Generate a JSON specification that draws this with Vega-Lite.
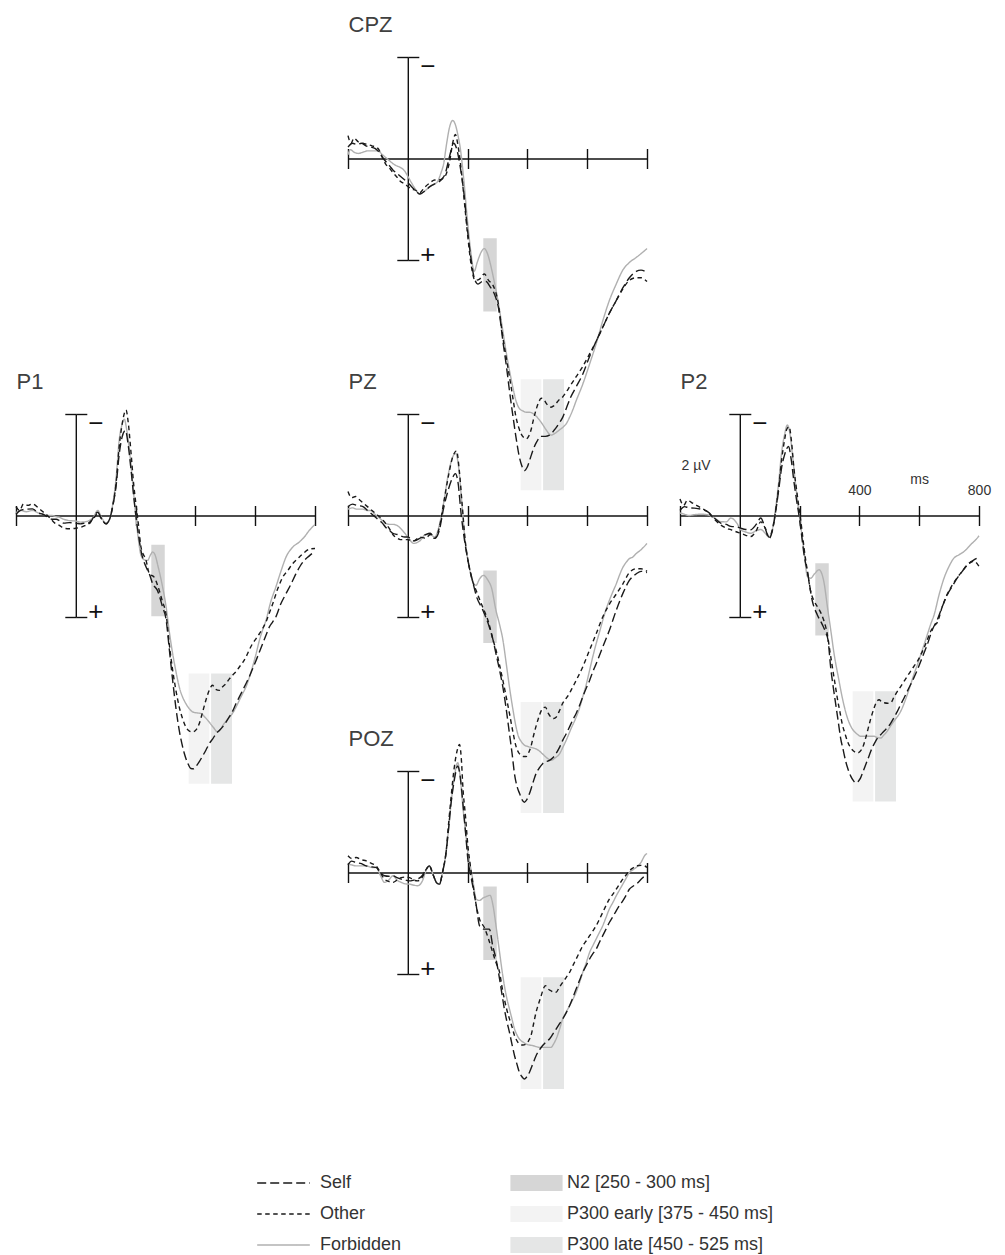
{
"$schema": "https://vega.github.io/schema/vega-lite/v6.json",
"padding": {"left": 13, "top": 13, "right": 5, "bottom": 2},
"bounds": "flush",
"columns": 3,
"spacing": {"row": 154, "column": 33},
"config": {
  "font": "Liberation Sans",
  "view": {"stroke": null},
  "axis": {"grid": false, "labels": false, "domainColor": "#111111", "domainWidth": 1.4, "tickColor": "#111111", "tickWidth": 1.4, "labelFlush": false, "labelOverlap": false, "labelFont": "Liberation Sans", "labelColor": "#333333"},
  "legend": {"labelFontSize": 18, "labelColor": "#333333", "labelFont": "Liberation Sans", "labelLimit": 400, "clipHeight": 20, "rowPadding": 11}
},
"datasets": {
"windows": [
{"site":"CPZ","window":"N2 [250 - 300 ms]","from":250,"to":300,"lo":3.11,"hi":6.06},
{"site":"CPZ","window":"P300 early [375 - 450 ms]","from":375,"to":450,"lo":8.67,"hi":13.1},
{"site":"CPZ","window":"P300 late [450 - 525 ms]","from":450,"to":525,"lo":8.67,"hi":13.1},
{"site":"PZ","window":"N2 [250 - 300 ms]","from":250,"to":300,"lo":2.14,"hi":5.05},
{"site":"PZ","window":"P300 early [375 - 450 ms]","from":375,"to":450,"lo":7.32,"hi":11.75},
{"site":"PZ","window":"P300 late [450 - 525 ms]","from":450,"to":525,"lo":7.32,"hi":11.75},
{"site":"P1","window":"N2 [250 - 300 ms]","from":250,"to":300,"lo":1.12,"hi":4.0},
{"site":"P1","window":"P300 early [375 - 450 ms]","from":375,"to":450,"lo":6.2,"hi":10.6},
{"site":"P1","window":"P300 late [450 - 525 ms]","from":450,"to":525,"lo":6.2,"hi":10.6},
{"site":"P2","window":"N2 [250 - 300 ms]","from":250,"to":300,"lo":1.85,"hi":4.76},
{"site":"P2","window":"P300 early [375 - 450 ms]","from":375,"to":450,"lo":6.9,"hi":11.3},
{"site":"P2","window":"P300 late [450 - 525 ms]","from":450,"to":525,"lo":6.9,"hi":11.3},
{"site":"POZ","window":"N2 [250 - 300 ms]","from":250,"to":300,"lo":0.52,"hi":3.48},
{"site":"POZ","window":"P300 early [375 - 450 ms]","from":375,"to":450,"lo":4.1,"hi":8.56},
{"site":"POZ","window":"P300 late [450 - 525 ms]","from":450,"to":525,"lo":4.1,"hi":8.56}
],
"CPZ": [
{"cond":"Forbidden","ms":-200,"uV":-0.15},{"cond":"Forbidden","ms":-192,"uV":-0.35},{"cond":"Forbidden","ms":-180,"uV":-0.25},{"cond":"Forbidden","ms":-165,"uV":-0.2},{"cond":"Forbidden","ms":-150,"uV":-0.25},{"cond":"Forbidden","ms":-135,"uV":-0.3},{"cond":"Forbidden","ms":-120,"uV":-0.3},{"cond":"Forbidden","ms":-100,"uV":-0.3},{"cond":"Forbidden","ms":-85,"uV":-0.15},{"cond":"Forbidden","ms":-75,"uV":-0.05},{"cond":"Forbidden","ms":-60,"uV":0.1},{"cond":"Forbidden","ms":-50,"uV":0.2},{"cond":"Forbidden","ms":-35,"uV":0.3},{"cond":"Forbidden","ms":-25,"uV":0.35},{"cond":"Forbidden","ms":-10,"uV":0.5},{"cond":"Forbidden","ms":0,"uV":0.7},{"cond":"Forbidden","ms":12,"uV":0.95},{"cond":"Forbidden","ms":25,"uV":1.2},{"cond":"Forbidden","ms":40,"uV":1.4},{"cond":"Forbidden","ms":55,"uV":1.3},{"cond":"Forbidden","ms":75,"uV":1.1},{"cond":"Forbidden","ms":90,"uV":1.0},{"cond":"Forbidden","ms":100,"uV":0.9},{"cond":"Forbidden","ms":110,"uV":0.6},{"cond":"Forbidden","ms":120,"uV":0.2},{"cond":"Forbidden","ms":130,"uV":-0.6},{"cond":"Forbidden","ms":140,"uV":-1.25},{"cond":"Forbidden","ms":150,"uV":-1.5},{"cond":"Forbidden","ms":160,"uV":-1.3},{"cond":"Forbidden","ms":168,"uV":-0.9},{"cond":"Forbidden","ms":175,"uV":-0.45},{"cond":"Forbidden","ms":187,"uV":0.8},{"cond":"Forbidden","ms":200,"uV":2.5},{"cond":"Forbidden","ms":212,"uV":3.8},{"cond":"Forbidden","ms":222,"uV":4.45},{"cond":"Forbidden","ms":232,"uV":4.1},{"cond":"Forbidden","ms":245,"uV":3.7},{"cond":"Forbidden","ms":256,"uV":3.55},{"cond":"Forbidden","ms":268,"uV":3.8},{"cond":"Forbidden","ms":280,"uV":4.35},{"cond":"Forbidden","ms":290,"uV":4.9},{"cond":"Forbidden","ms":300,"uV":5.5},{"cond":"Forbidden","ms":318,"uV":6.8},{"cond":"Forbidden","ms":330,"uV":7.7},{"cond":"Forbidden","ms":340,"uV":8.35},{"cond":"Forbidden","ms":351,"uV":9.0},{"cond":"Forbidden","ms":362,"uV":9.55},{"cond":"Forbidden","ms":373,"uV":9.85},{"cond":"Forbidden","ms":385,"uV":9.95},{"cond":"Forbidden","ms":396,"uV":10.0},{"cond":"Forbidden","ms":407,"uV":10.0},{"cond":"Forbidden","ms":424,"uV":10.1},{"cond":"Forbidden","ms":440,"uV":10.3},{"cond":"Forbidden","ms":452,"uV":10.5},{"cond":"Forbidden","ms":463,"uV":10.7},{"cond":"Forbidden","ms":479,"uV":10.9},{"cond":"Forbidden","ms":496,"uV":10.8},{"cond":"Forbidden","ms":507,"uV":10.7},{"cond":"Forbidden","ms":518,"uV":10.6},{"cond":"Forbidden","ms":530,"uV":10.45},{"cond":"Forbidden","ms":541,"uV":10.2},{"cond":"Forbidden","ms":552,"uV":9.9},{"cond":"Forbidden","ms":563,"uV":9.55},{"cond":"Forbidden","ms":585,"uV":8.9},{"cond":"Forbidden","ms":608,"uV":8.1},{"cond":"Forbidden","ms":630,"uV":7.3},{"cond":"Forbidden","ms":652,"uV":6.4},{"cond":"Forbidden","ms":674,"uV":5.6},{"cond":"Forbidden","ms":697,"uV":4.95},{"cond":"Forbidden","ms":719,"uV":4.4},{"cond":"Forbidden","ms":741,"uV":4.1},{"cond":"Forbidden","ms":764,"uV":3.9},{"cond":"Forbidden","ms":780,"uV":3.75},{"cond":"Forbidden","ms":800,"uV":3.55},
{"cond":"Other","ms":-200,"uV":-0.9},{"cond":"Other","ms":-190,"uV":-0.6},{"cond":"Other","ms":-180,"uV":-0.8},{"cond":"Other","ms":-165,"uV":-0.65},{"cond":"Other","ms":-150,"uV":-0.6},{"cond":"Other","ms":-135,"uV":-0.55},{"cond":"Other","ms":-120,"uV":-0.5},{"cond":"Other","ms":-100,"uV":-0.4},{"cond":"Other","ms":-85,"uV":-0.05},{"cond":"Other","ms":-75,"uV":0.2},{"cond":"Other","ms":-60,"uV":0.4},{"cond":"Other","ms":-50,"uV":0.55},{"cond":"Other","ms":-35,"uV":0.75},{"cond":"Other","ms":-25,"uV":0.9},{"cond":"Other","ms":-10,"uV":1.0},{"cond":"Other","ms":0,"uV":1.1},{"cond":"Other","ms":12,"uV":1.2},{"cond":"Other","ms":25,"uV":1.25},{"cond":"Other","ms":40,"uV":1.35},{"cond":"Other","ms":55,"uV":1.15},{"cond":"Other","ms":75,"uV":0.95},{"cond":"Other","ms":90,"uV":0.85},{"cond":"Other","ms":100,"uV":0.85},{"cond":"Other","ms":115,"uV":0.8},{"cond":"Other","ms":125,"uV":0.7},{"cond":"Other","ms":140,"uV":0.1},{"cond":"Other","ms":150,"uV":-0.6},{"cond":"Other","ms":159,"uV":-0.95},{"cond":"Other","ms":168,"uV":-0.5},{"cond":"Other","ms":180,"uV":0.6},{"cond":"Other","ms":190,"uV":1.8},{"cond":"Other","ms":200,"uV":3.0},{"cond":"Other","ms":212,"uV":4.2},{"cond":"Other","ms":225,"uV":4.8},{"cond":"Other","ms":240,"uV":4.75},{"cond":"Other","ms":256,"uV":4.55},{"cond":"Other","ms":270,"uV":4.8},{"cond":"Other","ms":285,"uV":5.0},{"cond":"Other","ms":300,"uV":5.55},{"cond":"Other","ms":318,"uV":7.05},{"cond":"Other","ms":330,"uV":7.9},{"cond":"Other","ms":340,"uV":8.6},{"cond":"Other","ms":351,"uV":9.4},{"cond":"Other","ms":362,"uV":10.2},{"cond":"Other","ms":371,"uV":10.6},{"cond":"Other","ms":379,"uV":10.85},{"cond":"Other","ms":388,"uV":11.0},{"cond":"Other","ms":396,"uV":11.05},{"cond":"Other","ms":404,"uV":10.95},{"cond":"Other","ms":412,"uV":10.7},{"cond":"Other","ms":420,"uV":10.3},{"cond":"Other","ms":429,"uV":9.9},{"cond":"Other","ms":438,"uV":9.6},{"cond":"Other","ms":446,"uV":9.45},{"cond":"Other","ms":455,"uV":9.5},{"cond":"Other","ms":463,"uV":9.65},{"cond":"Other","ms":471,"uV":9.75},{"cond":"Other","ms":479,"uV":9.8},{"cond":"Other","ms":488,"uV":9.75},{"cond":"Other","ms":496,"uV":9.65},{"cond":"Other","ms":507,"uV":9.5},{"cond":"Other","ms":518,"uV":9.4},{"cond":"Other","ms":530,"uV":9.2},{"cond":"Other","ms":541,"uV":9.0},{"cond":"Other","ms":563,"uV":8.6},{"cond":"Other","ms":585,"uV":8.2},{"cond":"Other","ms":608,"uV":7.7},{"cond":"Other","ms":630,"uV":7.2},{"cond":"Other","ms":652,"uV":6.65},{"cond":"Other","ms":674,"uV":6.1},{"cond":"Other","ms":697,"uV":5.6},{"cond":"Other","ms":719,"uV":5.15},{"cond":"Other","ms":741,"uV":4.8},{"cond":"Other","ms":764,"uV":4.7},{"cond":"Other","ms":780,"uV":4.7},{"cond":"Other","ms":800,"uV":4.85},
{"cond":"Self","ms":-200,"uV":-0.45},{"cond":"Self","ms":-185,"uV":-0.6},{"cond":"Self","ms":-170,"uV":-0.55},{"cond":"Self","ms":-155,"uV":-0.6},{"cond":"Self","ms":-140,"uV":-0.5},{"cond":"Self","ms":-125,"uV":-0.45},{"cond":"Self","ms":-110,"uV":-0.4},{"cond":"Self","ms":-100,"uV":-0.3},{"cond":"Self","ms":-85,"uV":-0.05},{"cond":"Self","ms":-75,"uV":0.1},{"cond":"Self","ms":-60,"uV":0.3},{"cond":"Self","ms":-50,"uV":0.45},{"cond":"Self","ms":-35,"uV":0.6},{"cond":"Self","ms":-25,"uV":0.7},{"cond":"Self","ms":-10,"uV":0.85},{"cond":"Self","ms":0,"uV":0.95},{"cond":"Self","ms":12,"uV":1.1},{"cond":"Self","ms":25,"uV":1.25},{"cond":"Self","ms":40,"uV":1.4},{"cond":"Self","ms":55,"uV":1.3},{"cond":"Self","ms":75,"uV":1.1},{"cond":"Self","ms":90,"uV":1.0},{"cond":"Self","ms":100,"uV":0.95},{"cond":"Self","ms":115,"uV":0.8},{"cond":"Self","ms":125,"uV":0.6},{"cond":"Self","ms":140,"uV":-0.1},{"cond":"Self","ms":153,"uV":-0.6},{"cond":"Self","ms":163,"uV":-0.4},{"cond":"Self","ms":175,"uV":0.3},{"cond":"Self","ms":187,"uV":1.3},{"cond":"Self","ms":200,"uV":2.85},{"cond":"Self","ms":212,"uV":4.0},{"cond":"Self","ms":222,"uV":4.7},{"cond":"Self","ms":235,"uV":4.95},{"cond":"Self","ms":250,"uV":4.85},{"cond":"Self","ms":262,"uV":4.85},{"cond":"Self","ms":275,"uV":5.05},{"cond":"Self","ms":290,"uV":5.35},{"cond":"Self","ms":305,"uV":6.0},{"cond":"Self","ms":318,"uV":7.2},{"cond":"Self","ms":330,"uV":8.2},{"cond":"Self","ms":340,"uV":9.15},{"cond":"Self","ms":351,"uV":10.1},{"cond":"Self","ms":362,"uV":11.0},{"cond":"Self","ms":372,"uV":11.7},{"cond":"Self","ms":381,"uV":12.1},{"cond":"Self","ms":390,"uV":12.3},{"cond":"Self","ms":400,"uV":12.15},{"cond":"Self","ms":410,"uV":11.8},{"cond":"Self","ms":420,"uV":11.45},{"cond":"Self","ms":432,"uV":11.15},{"cond":"Self","ms":445,"uV":10.95},{"cond":"Self","ms":460,"uV":10.95},{"cond":"Self","ms":474,"uV":10.9},{"cond":"Self","ms":490,"uV":10.7},{"cond":"Self","ms":505,"uV":10.45},{"cond":"Self","ms":518,"uV":10.2},{"cond":"Self","ms":530,"uV":9.85},{"cond":"Self","ms":545,"uV":9.4},{"cond":"Self","ms":563,"uV":9.0},{"cond":"Self","ms":585,"uV":8.5},{"cond":"Self","ms":608,"uV":7.8},{"cond":"Self","ms":630,"uV":7.2},{"cond":"Self","ms":652,"uV":6.65},{"cond":"Self","ms":674,"uV":6.1},{"cond":"Self","ms":697,"uV":5.6},{"cond":"Self","ms":719,"uV":5.1},{"cond":"Self","ms":741,"uV":4.7},{"cond":"Self","ms":764,"uV":4.45},{"cond":"Self","ms":780,"uV":4.4},{"cond":"Self","ms":800,"uV":4.5}
],
"PZ": [
{"cond":"Forbidden","ms":-200,"uV":-0.25},{"cond":"Forbidden","ms":-185,"uV":-0.3},{"cond":"Forbidden","ms":-170,"uV":-0.25},{"cond":"Forbidden","ms":-150,"uV":-0.25},{"cond":"Forbidden","ms":-135,"uV":-0.2},{"cond":"Forbidden","ms":-125,"uV":-0.2},{"cond":"Forbidden","ms":-110,"uV":-0.05},{"cond":"Forbidden","ms":-100,"uV":0.05},{"cond":"Forbidden","ms":-85,"uV":0.2},{"cond":"Forbidden","ms":-75,"uV":0.3},{"cond":"Forbidden","ms":-60,"uV":0.35},{"cond":"Forbidden","ms":-50,"uV":0.35},{"cond":"Forbidden","ms":-35,"uV":0.4},{"cond":"Forbidden","ms":-25,"uV":0.5},{"cond":"Forbidden","ms":-10,"uV":0.7},{"cond":"Forbidden","ms":0,"uV":0.85},{"cond":"Forbidden","ms":20,"uV":1.1},{"cond":"Forbidden","ms":40,"uV":1.0},{"cond":"Forbidden","ms":60,"uV":0.75},{"cond":"Forbidden","ms":75,"uV":0.75},{"cond":"Forbidden","ms":90,"uV":0.85},{"cond":"Forbidden","ms":105,"uV":0.4},{"cond":"Forbidden","ms":120,"uV":-0.5},{"cond":"Forbidden","ms":135,"uV":-1.6},{"cond":"Forbidden","ms":150,"uV":-2.3},{"cond":"Forbidden","ms":160,"uV":-2.45},{"cond":"Forbidden","ms":170,"uV":-1.9},{"cond":"Forbidden","ms":180,"uV":-0.6},{"cond":"Forbidden","ms":190,"uV":0.8},{"cond":"Forbidden","ms":205,"uV":2.0},{"cond":"Forbidden","ms":217,"uV":2.6},{"cond":"Forbidden","ms":228,"uV":2.75},{"cond":"Forbidden","ms":240,"uV":2.5},{"cond":"Forbidden","ms":253,"uV":2.36},{"cond":"Forbidden","ms":268,"uV":2.55},{"cond":"Forbidden","ms":280,"uV":2.85},{"cond":"Forbidden","ms":295,"uV":3.75},{"cond":"Forbidden","ms":307,"uV":4.3},{"cond":"Forbidden","ms":318,"uV":4.9},{"cond":"Forbidden","ms":330,"uV":5.9},{"cond":"Forbidden","ms":340,"uV":6.76},{"cond":"Forbidden","ms":351,"uV":7.6},{"cond":"Forbidden","ms":362,"uV":8.33},{"cond":"Forbidden","ms":370,"uV":8.7},{"cond":"Forbidden","ms":379,"uV":8.9},{"cond":"Forbidden","ms":390,"uV":9.05},{"cond":"Forbidden","ms":401,"uV":9.1},{"cond":"Forbidden","ms":415,"uV":9.15},{"cond":"Forbidden","ms":429,"uV":9.2},{"cond":"Forbidden","ms":440,"uV":9.28},{"cond":"Forbidden","ms":451,"uV":9.4},{"cond":"Forbidden","ms":465,"uV":9.55},{"cond":"Forbidden","ms":479,"uV":9.65},{"cond":"Forbidden","ms":493,"uV":9.55},{"cond":"Forbidden","ms":507,"uV":9.4},{"cond":"Forbidden","ms":518,"uV":9.15},{"cond":"Forbidden","ms":530,"uV":8.85},{"cond":"Forbidden","ms":546,"uV":8.4},{"cond":"Forbidden","ms":563,"uV":7.95},{"cond":"Forbidden","ms":574,"uV":7.6},{"cond":"Forbidden","ms":585,"uV":7.15},{"cond":"Forbidden","ms":597,"uV":6.65},{"cond":"Forbidden","ms":608,"uV":6.1},{"cond":"Forbidden","ms":619,"uV":5.55},{"cond":"Forbidden","ms":630,"uV":5.05},{"cond":"Forbidden","ms":641,"uV":4.6},{"cond":"Forbidden","ms":652,"uV":4.13},{"cond":"Forbidden","ms":663,"uV":3.7},{"cond":"Forbidden","ms":674,"uV":3.35},{"cond":"Forbidden","ms":686,"uV":3.0},{"cond":"Forbidden","ms":697,"uV":2.7},{"cond":"Forbidden","ms":708,"uV":2.35},{"cond":"Forbidden","ms":719,"uV":2.05},{"cond":"Forbidden","ms":730,"uV":1.85},{"cond":"Forbidden","ms":741,"uV":1.7},{"cond":"Forbidden","ms":752,"uV":1.64},{"cond":"Forbidden","ms":764,"uV":1.5},{"cond":"Forbidden","ms":780,"uV":1.35},{"cond":"Forbidden","ms":800,"uV":1.1},
{"cond":"Other","ms":-200,"uV":-0.95},{"cond":"Other","ms":-188,"uV":-0.7},{"cond":"Other","ms":-175,"uV":-0.75},{"cond":"Other","ms":-160,"uV":-0.6},{"cond":"Other","ms":-150,"uV":-0.5},{"cond":"Other","ms":-135,"uV":-0.35},{"cond":"Other","ms":-125,"uV":-0.25},{"cond":"Other","ms":-110,"uV":-0.1},{"cond":"Other","ms":-100,"uV":0.0},{"cond":"Other","ms":-85,"uV":0.15},{"cond":"Other","ms":-75,"uV":0.3},{"cond":"Other","ms":-60,"uV":0.55},{"cond":"Other","ms":-50,"uV":0.75},{"cond":"Other","ms":-35,"uV":0.9},{"cond":"Other","ms":-25,"uV":0.95},{"cond":"Other","ms":-10,"uV":0.95},{"cond":"Other","ms":0,"uV":0.95},{"cond":"Other","ms":20,"uV":1.0},{"cond":"Other","ms":40,"uV":0.85},{"cond":"Other","ms":60,"uV":0.9},{"cond":"Other","ms":75,"uV":0.75},{"cond":"Other","ms":90,"uV":0.9},{"cond":"Other","ms":105,"uV":0.5},{"cond":"Other","ms":120,"uV":-0.5},{"cond":"Other","ms":135,"uV":-1.5},{"cond":"Other","ms":150,"uV":-2.3},{"cond":"Other","ms":163,"uV":-2.55},{"cond":"Other","ms":172,"uV":-1.8},{"cond":"Other","ms":182,"uV":-0.4},{"cond":"Other","ms":192,"uV":1.0},{"cond":"Other","ms":205,"uV":2.0},{"cond":"Other","ms":217,"uV":2.6},{"cond":"Other","ms":230,"uV":3.0},{"cond":"Other","ms":250,"uV":3.6},{"cond":"Other","ms":270,"uV":4.2},{"cond":"Other","ms":285,"uV":4.9},{"cond":"Other","ms":295,"uV":5.3},{"cond":"Other","ms":307,"uV":5.9},{"cond":"Other","ms":318,"uV":6.5},{"cond":"Other","ms":330,"uV":7.2},{"cond":"Other","ms":340,"uV":7.8},{"cond":"Other","ms":351,"uV":8.5},{"cond":"Other","ms":362,"uV":9.1},{"cond":"Other","ms":371,"uV":9.35},{"cond":"Other","ms":379,"uV":9.45},{"cond":"Other","ms":388,"uV":9.5},{"cond":"Other","ms":396,"uV":9.5},{"cond":"Other","ms":404,"uV":9.35},{"cond":"Other","ms":412,"uV":9.1},{"cond":"Other","ms":420,"uV":8.7},{"cond":"Other","ms":429,"uV":8.3},{"cond":"Other","ms":438,"uV":7.95},{"cond":"Other","ms":446,"uV":7.7},{"cond":"Other","ms":453,"uV":7.58},{"cond":"Other","ms":460,"uV":7.55},{"cond":"Other","ms":470,"uV":7.8},{"cond":"Other","ms":479,"uV":7.95},{"cond":"Other","ms":488,"uV":8.0},{"cond":"Other","ms":496,"uV":7.95},{"cond":"Other","ms":507,"uV":7.7},{"cond":"Other","ms":518,"uV":7.4},{"cond":"Other","ms":530,"uV":7.2},{"cond":"Other","ms":541,"uV":7.0},{"cond":"Other","ms":552,"uV":6.75},{"cond":"Other","ms":563,"uV":6.5},{"cond":"Other","ms":585,"uV":5.97},{"cond":"Other","ms":608,"uV":5.3},{"cond":"Other","ms":630,"uV":4.66},{"cond":"Other","ms":652,"uV":4.0},{"cond":"Other","ms":674,"uV":3.5},{"cond":"Other","ms":697,"uV":3.1},{"cond":"Other","ms":719,"uV":2.7},{"cond":"Other","ms":741,"uV":2.25},{"cond":"Other","ms":764,"uV":2.1},{"cond":"Other","ms":780,"uV":2.1},{"cond":"Other","ms":800,"uV":2.2},
{"cond":"Self","ms":-200,"uV":-0.35},{"cond":"Self","ms":-185,"uV":-0.45},{"cond":"Self","ms":-170,"uV":-0.4},{"cond":"Self","ms":-150,"uV":-0.35},{"cond":"Self","ms":-135,"uV":-0.2},{"cond":"Self","ms":-125,"uV":-0.1},{"cond":"Self","ms":-110,"uV":0.05},{"cond":"Self","ms":-100,"uV":0.15},{"cond":"Self","ms":-85,"uV":0.3},{"cond":"Self","ms":-75,"uV":0.45},{"cond":"Self","ms":-60,"uV":0.6},{"cond":"Self","ms":-50,"uV":0.7},{"cond":"Self","ms":-35,"uV":0.75},{"cond":"Self","ms":-25,"uV":0.8},{"cond":"Self","ms":-10,"uV":0.85},{"cond":"Self","ms":0,"uV":0.85},{"cond":"Self","ms":20,"uV":1.0},{"cond":"Self","ms":40,"uV":0.9},{"cond":"Self","ms":60,"uV":0.75},{"cond":"Self","ms":75,"uV":0.7},{"cond":"Self","ms":90,"uV":0.9},{"cond":"Self","ms":105,"uV":0.6},{"cond":"Self","ms":120,"uV":-0.3},{"cond":"Self","ms":135,"uV":-1.0},{"cond":"Self","ms":150,"uV":-1.5},{"cond":"Self","ms":159,"uV":-1.65},{"cond":"Self","ms":168,"uV":-1.3},{"cond":"Self","ms":178,"uV":-0.1},{"cond":"Self","ms":190,"uV":1.0},{"cond":"Self","ms":205,"uV":2.0},{"cond":"Self","ms":217,"uV":2.6},{"cond":"Self","ms":230,"uV":3.2},{"cond":"Self","ms":250,"uV":3.7},{"cond":"Self","ms":270,"uV":4.3},{"cond":"Self","ms":285,"uV":4.9},{"cond":"Self","ms":295,"uV":5.45},{"cond":"Self","ms":307,"uV":6.1},{"cond":"Self","ms":318,"uV":6.76},{"cond":"Self","ms":330,"uV":7.7},{"cond":"Self","ms":340,"uV":8.6},{"cond":"Self","ms":349,"uV":9.4},{"cond":"Self","ms":357,"uV":10.2},{"cond":"Self","ms":366,"uV":10.7},{"cond":"Self","ms":374,"uV":10.96},{"cond":"Self","ms":382,"uV":11.2},{"cond":"Self","ms":390,"uV":11.3},{"cond":"Self","ms":398,"uV":11.2},{"cond":"Self","ms":407,"uV":10.96},{"cond":"Self","ms":418,"uV":10.55},{"cond":"Self","ms":429,"uV":10.17},{"cond":"Self","ms":440,"uV":9.95},{"cond":"Self","ms":451,"uV":9.78},{"cond":"Self","ms":462,"uV":9.7},{"cond":"Self","ms":474,"uV":9.65},{"cond":"Self","ms":485,"uV":9.55},{"cond":"Self","ms":496,"uV":9.38},{"cond":"Self","ms":507,"uV":9.15},{"cond":"Self","ms":518,"uV":8.86},{"cond":"Self","ms":530,"uV":8.6},{"cond":"Self","ms":541,"uV":8.33},{"cond":"Self","ms":552,"uV":8.05},{"cond":"Self","ms":563,"uV":7.8},{"cond":"Self","ms":574,"uV":7.5},{"cond":"Self","ms":585,"uV":7.15},{"cond":"Self","ms":597,"uV":6.8},{"cond":"Self","ms":608,"uV":6.5},{"cond":"Self","ms":619,"uV":6.15},{"cond":"Self","ms":630,"uV":5.84},{"cond":"Self","ms":652,"uV":5.18},{"cond":"Self","ms":674,"uV":4.53},{"cond":"Self","ms":697,"uV":3.74},{"cond":"Self","ms":719,"uV":3.08},{"cond":"Self","ms":741,"uV":2.56},{"cond":"Self","ms":764,"uV":2.3},{"cond":"Self","ms":780,"uV":2.2},{"cond":"Self","ms":800,"uV":2.25}
],
"P1": [
{"cond":"Forbidden","ms":-200,"uV":-0.1},{"cond":"Forbidden","ms":-185,"uV":-0.2},{"cond":"Forbidden","ms":-165,"uV":-0.15},{"cond":"Forbidden","ms":-145,"uV":-0.2},{"cond":"Forbidden","ms":-125,"uV":-0.1},{"cond":"Forbidden","ms":-110,"uV":-0.05},{"cond":"Forbidden","ms":-95,"uV":0.0},{"cond":"Forbidden","ms":-80,"uV":0.0},{"cond":"Forbidden","ms":-65,"uV":0.05},{"cond":"Forbidden","ms":-55,"uV":0.07},{"cond":"Forbidden","ms":-40,"uV":0.15},{"cond":"Forbidden","ms":-22,"uV":0.2},{"cond":"Forbidden","ms":0,"uV":0.22},{"cond":"Forbidden","ms":15,"uV":0.26},{"cond":"Forbidden","ms":30,"uV":0.25},{"cond":"Forbidden","ms":45,"uV":0.2},{"cond":"Forbidden","ms":60,"uV":0.05},{"cond":"Forbidden","ms":73,"uV":-0.2},{"cond":"Forbidden","ms":87,"uV":0.1},{"cond":"Forbidden","ms":101,"uV":0.3},{"cond":"Forbidden","ms":113,"uV":0.15},{"cond":"Forbidden","ms":123,"uV":-0.4},{"cond":"Forbidden","ms":135,"uV":-1.5},{"cond":"Forbidden","ms":145,"uV":-2.95},{"cond":"Forbidden","ms":155,"uV":-3.6},{"cond":"Forbidden","ms":162,"uV":-3.8},{"cond":"Forbidden","ms":170,"uV":-3.4},{"cond":"Forbidden","ms":180,"uV":-2.5},{"cond":"Forbidden","ms":190,"uV":-1.3},{"cond":"Forbidden","ms":201,"uV":0.07},{"cond":"Forbidden","ms":210,"uV":1.0},{"cond":"Forbidden","ms":218,"uV":1.57},{"cond":"Forbidden","ms":230,"uV":1.75},{"cond":"Forbidden","ms":240,"uV":1.77},{"cond":"Forbidden","ms":250,"uV":1.55},{"cond":"Forbidden","ms":257,"uV":1.44},{"cond":"Forbidden","ms":265,"uV":1.55},{"cond":"Forbidden","ms":275,"uV":2.0},{"cond":"Forbidden","ms":290,"uV":2.8},{"cond":"Forbidden","ms":302,"uV":3.6},{"cond":"Forbidden","ms":313,"uV":4.6},{"cond":"Forbidden","ms":324,"uV":5.45},{"cond":"Forbidden","ms":335,"uV":6.15},{"cond":"Forbidden","ms":346,"uV":6.76},{"cond":"Forbidden","ms":357,"uV":7.15},{"cond":"Forbidden","ms":368,"uV":7.41},{"cond":"Forbidden","ms":380,"uV":7.62},{"cond":"Forbidden","ms":391,"uV":7.74},{"cond":"Forbidden","ms":405,"uV":7.78},{"cond":"Forbidden","ms":418,"uV":7.8},{"cond":"Forbidden","ms":432,"uV":7.95},{"cond":"Forbidden","ms":446,"uV":8.14},{"cond":"Forbidden","ms":460,"uV":8.35},{"cond":"Forbidden","ms":474,"uV":8.53},{"cond":"Forbidden","ms":485,"uV":8.4},{"cond":"Forbidden","ms":496,"uV":8.2},{"cond":"Forbidden","ms":510,"uV":8.0},{"cond":"Forbidden","ms":524,"uV":7.8},{"cond":"Forbidden","ms":536,"uV":7.55},{"cond":"Forbidden","ms":547,"uV":7.28},{"cond":"Forbidden","ms":558,"uV":7.02},{"cond":"Forbidden","ms":569,"uV":6.76},{"cond":"Forbidden","ms":580,"uV":6.4},{"cond":"Forbidden","ms":591,"uV":5.97},{"cond":"Forbidden","ms":603,"uV":5.45},{"cond":"Forbidden","ms":614,"uV":4.92},{"cond":"Forbidden","ms":625,"uV":4.5},{"cond":"Forbidden","ms":636,"uV":4.13},{"cond":"Forbidden","ms":652,"uV":3.4},{"cond":"Forbidden","ms":669,"uV":2.82},{"cond":"Forbidden","ms":686,"uV":2.2},{"cond":"Forbidden","ms":703,"uV":1.64},{"cond":"Forbidden","ms":725,"uV":1.25},{"cond":"Forbidden","ms":747,"uV":1.05},{"cond":"Forbidden","ms":764,"uV":0.85},{"cond":"Forbidden","ms":780,"uV":0.6},{"cond":"Forbidden","ms":800,"uV":0.35},
{"cond":"Other","ms":-200,"uV":-0.35},{"cond":"Other","ms":-188,"uV":-0.2},{"cond":"Other","ms":-175,"uV":-0.45},{"cond":"Other","ms":-160,"uV":-0.4},{"cond":"Other","ms":-145,"uV":-0.46},{"cond":"Other","ms":-125,"uV":-0.3},{"cond":"Other","ms":-110,"uV":-0.15},{"cond":"Other","ms":-100,"uV":-0.05},{"cond":"Other","ms":-89,"uV":0.07},{"cond":"Other","ms":-70,"uV":0.3},{"cond":"Other","ms":-55,"uV":0.39},{"cond":"Other","ms":-40,"uV":0.5},{"cond":"Other","ms":-22,"uV":0.52},{"cond":"Other","ms":0,"uV":0.5},{"cond":"Other","ms":15,"uV":0.47},{"cond":"Other","ms":30,"uV":0.4},{"cond":"Other","ms":45,"uV":0.28},{"cond":"Other","ms":60,"uV":0.1},{"cond":"Other","ms":73,"uV":-0.07},{"cond":"Other","ms":87,"uV":0.15},{"cond":"Other","ms":101,"uV":0.33},{"cond":"Other","ms":113,"uV":0.15},{"cond":"Other","ms":123,"uV":-0.35},{"cond":"Other","ms":135,"uV":-1.3},{"cond":"Other","ms":145,"uV":-2.7},{"cond":"Other","ms":155,"uV":-3.6},{"cond":"Other","ms":163,"uV":-4.05},{"cond":"Other","ms":168,"uV":-4.16},{"cond":"Other","ms":175,"uV":-3.7},{"cond":"Other","ms":185,"uV":-2.43},{"cond":"Other","ms":193,"uV":-1.3},{"cond":"Other","ms":201,"uV":-0.46},{"cond":"Other","ms":210,"uV":0.4},{"cond":"Other","ms":218,"uV":1.25},{"cond":"Other","ms":235,"uV":1.77},{"cond":"Other","ms":246,"uV":2.3},{"cond":"Other","ms":262,"uV":2.43},{"cond":"Other","ms":275,"uV":2.8},{"cond":"Other","ms":290,"uV":3.4},{"cond":"Other","ms":302,"uV":3.9},{"cond":"Other","ms":313,"uV":5.1},{"cond":"Other","ms":324,"uV":6.1},{"cond":"Other","ms":335,"uV":6.9},{"cond":"Other","ms":346,"uV":7.55},{"cond":"Other","ms":357,"uV":8.0},{"cond":"Other","ms":368,"uV":8.33},{"cond":"Other","ms":380,"uV":8.5},{"cond":"Other","ms":391,"uV":8.53},{"cond":"Other","ms":402,"uV":8.45},{"cond":"Other","ms":413,"uV":8.2},{"cond":"Other","ms":424,"uV":7.75},{"cond":"Other","ms":435,"uV":7.28},{"cond":"Other","ms":446,"uV":6.9},{"cond":"Other","ms":457,"uV":6.69},{"cond":"Other","ms":468,"uV":6.85},{"cond":"Other","ms":480,"uV":6.89},{"cond":"Other","ms":491,"uV":6.75},{"cond":"Other","ms":502,"uV":6.63},{"cond":"Other","ms":513,"uV":6.45},{"cond":"Other","ms":524,"uV":6.3},{"cond":"Other","ms":536,"uV":6.15},{"cond":"Other","ms":547,"uV":5.97},{"cond":"Other","ms":558,"uV":5.8},{"cond":"Other","ms":569,"uV":5.58},{"cond":"Other","ms":580,"uV":5.3},{"cond":"Other","ms":591,"uV":5.05},{"cond":"Other","ms":603,"uV":4.85},{"cond":"Other","ms":614,"uV":4.66},{"cond":"Other","ms":625,"uV":4.45},{"cond":"Other","ms":636,"uV":4.2},{"cond":"Other","ms":647,"uV":3.85},{"cond":"Other","ms":658,"uV":3.5},{"cond":"Other","ms":675,"uV":2.9},{"cond":"Other","ms":692,"uV":2.43},{"cond":"Other","ms":710,"uV":2.15},{"cond":"Other","ms":725,"uV":1.9},{"cond":"Other","ms":742,"uV":1.7},{"cond":"Other","ms":759,"uV":1.51},{"cond":"Other","ms":786,"uV":1.31},{"cond":"Other","ms":800,"uV":1.3},
{"cond":"Self","ms":-200,"uV":-0.05},{"cond":"Self","ms":-185,"uV":-0.2},{"cond":"Self","ms":-165,"uV":-0.25},{"cond":"Self","ms":-145,"uV":-0.26},{"cond":"Self","ms":-125,"uV":-0.1},{"cond":"Self","ms":-110,"uV":-0.05},{"cond":"Self","ms":-95,"uV":0.05},{"cond":"Self","ms":-80,"uV":0.15},{"cond":"Self","ms":-65,"uV":0.15},{"cond":"Self","ms":-55,"uV":0.2},{"cond":"Self","ms":-40,"uV":0.3},{"cond":"Self","ms":-22,"uV":0.28},{"cond":"Self","ms":0,"uV":0.3},{"cond":"Self","ms":15,"uV":0.33},{"cond":"Self","ms":30,"uV":0.3},{"cond":"Self","ms":45,"uV":0.32},{"cond":"Self","ms":60,"uV":0.05},{"cond":"Self","ms":73,"uV":-0.13},{"cond":"Self","ms":87,"uV":0.15},{"cond":"Self","ms":101,"uV":0.33},{"cond":"Self","ms":113,"uV":0.15},{"cond":"Self","ms":123,"uV":-0.33},{"cond":"Self","ms":135,"uV":-1.2},{"cond":"Self","ms":145,"uV":-2.4},{"cond":"Self","ms":155,"uV":-3.1},{"cond":"Self","ms":166,"uV":-3.35},{"cond":"Self","ms":175,"uV":-2.8},{"cond":"Self","ms":185,"uV":-1.77},{"cond":"Self","ms":195,"uV":-0.6},{"cond":"Self","ms":203,"uV":0.2},{"cond":"Self","ms":210,"uV":0.8},{"cond":"Self","ms":218,"uV":1.38},{"cond":"Self","ms":235,"uV":2.03},{"cond":"Self","ms":246,"uV":2.3},{"cond":"Self","ms":257,"uV":2.69},{"cond":"Self","ms":273,"uV":2.95},{"cond":"Self","ms":290,"uV":3.6},{"cond":"Self","ms":302,"uV":4.1},{"cond":"Self","ms":313,"uV":5.3},{"cond":"Self","ms":324,"uV":6.5},{"cond":"Self","ms":335,"uV":7.6},{"cond":"Self","ms":346,"uV":8.47},{"cond":"Self","ms":355,"uV":9.0},{"cond":"Self","ms":363,"uV":9.38},{"cond":"Self","ms":374,"uV":9.75},{"cond":"Self","ms":385,"uV":9.97},{"cond":"Self","ms":393,"uV":9.98},{"cond":"Self","ms":401,"uV":9.9},{"cond":"Self","ms":412,"uV":9.72},{"cond":"Self","ms":423,"uV":9.5},{"cond":"Self","ms":435,"uV":9.25},{"cond":"Self","ms":446,"uV":9.0},{"cond":"Self","ms":458,"uV":8.8},{"cond":"Self","ms":469,"uV":8.6},{"cond":"Self","ms":480,"uV":8.47},{"cond":"Self","ms":491,"uV":8.33},{"cond":"Self","ms":502,"uV":8.15},{"cond":"Self","ms":513,"uV":7.94},{"cond":"Self","ms":525,"uV":7.7},{"cond":"Self","ms":536,"uV":7.41},{"cond":"Self","ms":547,"uV":7.15},{"cond":"Self","ms":558,"uV":6.89},{"cond":"Self","ms":569,"uV":6.63},{"cond":"Self","ms":580,"uV":6.36},{"cond":"Self","ms":591,"uV":6.05},{"cond":"Self","ms":603,"uV":5.71},{"cond":"Self","ms":614,"uV":5.38},{"cond":"Self","ms":625,"uV":5.05},{"cond":"Self","ms":636,"uV":4.72},{"cond":"Self","ms":647,"uV":4.4},{"cond":"Self","ms":658,"uV":4.2},{"cond":"Self","ms":669,"uV":4.0},{"cond":"Self","ms":685,"uV":3.5},{"cond":"Self","ms":703,"uV":3.08},{"cond":"Self","ms":720,"uV":2.7},{"cond":"Self","ms":736,"uV":2.3},{"cond":"Self","ms":750,"uV":2.0},{"cond":"Self","ms":764,"uV":1.77},{"cond":"Self","ms":780,"uV":1.6},{"cond":"Self","ms":800,"uV":1.4}
],
"P2": [
{"cond":"Forbidden","ms":-200,"uV":-0.1},{"cond":"Forbidden","ms":-185,"uV":-0.05},{"cond":"Forbidden","ms":-170,"uV":0.0},{"cond":"Forbidden","ms":-153,"uV":-0.03},{"cond":"Forbidden","ms":-130,"uV":-0.05},{"cond":"Forbidden","ms":-108,"uV":-0.03},{"cond":"Forbidden","ms":-85,"uV":0.1},{"cond":"Forbidden","ms":-64,"uV":0.24},{"cond":"Forbidden","ms":-45,"uV":0.25},{"cond":"Forbidden","ms":-30,"uV":0.1},{"cond":"Forbidden","ms":-10,"uV":0.3},{"cond":"Forbidden","ms":3,"uV":0.56},{"cond":"Forbidden","ms":20,"uV":0.65},{"cond":"Forbidden","ms":36,"uV":0.7},{"cond":"Forbidden","ms":55,"uV":0.6},{"cond":"Forbidden","ms":70,"uV":0.55},{"cond":"Forbidden","ms":85,"uV":0.7},{"cond":"Forbidden","ms":98,"uV":0.85},{"cond":"Forbidden","ms":110,"uV":0.5},{"cond":"Forbidden","ms":120,"uV":-0.3},{"cond":"Forbidden","ms":130,"uV":-1.3},{"cond":"Forbidden","ms":140,"uV":-2.5},{"cond":"Forbidden","ms":150,"uV":-3.2},{"cond":"Forbidden","ms":159,"uV":-3.57},{"cond":"Forbidden","ms":168,"uV":-3.2},{"cond":"Forbidden","ms":176,"uV":-2.4},{"cond":"Forbidden","ms":185,"uV":-1.4},{"cond":"Forbidden","ms":198,"uV":-0.1},{"cond":"Forbidden","ms":207,"uV":0.7},{"cond":"Forbidden","ms":215,"uV":1.42},{"cond":"Forbidden","ms":226,"uV":2.4},{"cond":"Forbidden","ms":237,"uV":2.47},{"cond":"Forbidden","ms":250,"uV":2.3},{"cond":"Forbidden","ms":265,"uV":2.14},{"cond":"Forbidden","ms":281,"uV":2.6},{"cond":"Forbidden","ms":293,"uV":3.6},{"cond":"Forbidden","ms":304,"uV":4.5},{"cond":"Forbidden","ms":316,"uV":5.5},{"cond":"Forbidden","ms":330,"uV":6.4},{"cond":"Forbidden","ms":345,"uV":7.3},{"cond":"Forbidden","ms":360,"uV":7.98},{"cond":"Forbidden","ms":371,"uV":8.3},{"cond":"Forbidden","ms":382,"uV":8.5},{"cond":"Forbidden","ms":393,"uV":8.62},{"cond":"Forbidden","ms":404,"uV":8.7},{"cond":"Forbidden","ms":415,"uV":8.7},{"cond":"Forbidden","ms":427,"uV":8.7},{"cond":"Forbidden","ms":438,"uV":8.7},{"cond":"Forbidden","ms":449,"uV":8.7},{"cond":"Forbidden","ms":460,"uV":8.75},{"cond":"Forbidden","ms":471,"uV":8.77},{"cond":"Forbidden","ms":482,"uV":8.65},{"cond":"Forbidden","ms":493,"uV":8.5},{"cond":"Forbidden","ms":504,"uV":8.3},{"cond":"Forbidden","ms":515,"uV":8.11},{"cond":"Forbidden","ms":527,"uV":7.93},{"cond":"Forbidden","ms":538,"uV":7.72},{"cond":"Forbidden","ms":549,"uV":7.42},{"cond":"Forbidden","ms":560,"uV":7.06},{"cond":"Forbidden","ms":571,"uV":6.68},{"cond":"Forbidden","ms":582,"uV":6.27},{"cond":"Forbidden","ms":594,"uV":5.88},{"cond":"Forbidden","ms":605,"uV":5.49},{"cond":"Forbidden","ms":616,"uV":5.1},{"cond":"Forbidden","ms":627,"uV":4.7},{"cond":"Forbidden","ms":638,"uV":4.3},{"cond":"Forbidden","ms":650,"uV":3.91},{"cond":"Forbidden","ms":667,"uV":3.1},{"cond":"Forbidden","ms":683,"uV":2.47},{"cond":"Forbidden","ms":700,"uV":2.0},{"cond":"Forbidden","ms":716,"uV":1.68},{"cond":"Forbidden","ms":733,"uV":1.55},{"cond":"Forbidden","ms":750,"uV":1.42},{"cond":"Forbidden","ms":772,"uV":1.15},{"cond":"Forbidden","ms":794,"uV":0.89},{"cond":"Forbidden","ms":800,"uV":0.8},
{"cond":"Other","ms":-200,"uV":-0.65},{"cond":"Other","ms":-188,"uV":-0.4},{"cond":"Other","ms":-175,"uV":-0.6},{"cond":"Other","ms":-160,"uV":-0.5},{"cond":"Other","ms":-145,"uV":-0.4},{"cond":"Other","ms":-130,"uV":-0.3},{"cond":"Other","ms":-108,"uV":-0.15},{"cond":"Other","ms":-85,"uV":0.15},{"cond":"Other","ms":-64,"uV":0.37},{"cond":"Other","ms":-45,"uV":0.5},{"cond":"Other","ms":-30,"uV":0.56},{"cond":"Other","ms":-10,"uV":0.65},{"cond":"Other","ms":3,"uV":0.7},{"cond":"Other","ms":20,"uV":0.78},{"cond":"Other","ms":36,"uV":0.83},{"cond":"Other","ms":55,"uV":0.6},{"cond":"Other","ms":70,"uV":0.25},{"cond":"Other","ms":85,"uV":0.5},{"cond":"Other","ms":98,"uV":0.85},{"cond":"Other","ms":110,"uV":0.5},{"cond":"Other","ms":120,"uV":-0.2},{"cond":"Other","ms":130,"uV":-1.1},{"cond":"Other","ms":140,"uV":-2.2},{"cond":"Other","ms":150,"uV":-3.0},{"cond":"Other","ms":157,"uV":-3.4},{"cond":"Other","ms":165,"uV":-3.5},{"cond":"Other","ms":173,"uV":-2.9},{"cond":"Other","ms":181,"uV":-1.86},{"cond":"Other","ms":190,"uV":-1.0},{"cond":"Other","ms":198,"uV":-0.29},{"cond":"Other","ms":207,"uV":0.5},{"cond":"Other","ms":215,"uV":1.29},{"cond":"Other","ms":226,"uV":2.2},{"cond":"Other","ms":237,"uV":2.99},{"cond":"Other","ms":250,"uV":3.4},{"cond":"Other","ms":265,"uV":3.7},{"cond":"Other","ms":280,"uV":4.1},{"cond":"Other","ms":293,"uV":4.7},{"cond":"Other","ms":302,"uV":5.4},{"cond":"Other","ms":310,"uV":6.0},{"cond":"Other","ms":318,"uV":6.6},{"cond":"Other","ms":326,"uV":7.19},{"cond":"Other","ms":335,"uV":7.75},{"cond":"Other","ms":343,"uV":8.24},{"cond":"Other","ms":352,"uV":8.6},{"cond":"Other","ms":360,"uV":8.9},{"cond":"Other","ms":368,"uV":9.1},{"cond":"Other","ms":376,"uV":9.23},{"cond":"Other","ms":385,"uV":9.32},{"cond":"Other","ms":393,"uV":9.36},{"cond":"Other","ms":402,"uV":9.3},{"cond":"Other","ms":410,"uV":9.17},{"cond":"Other","ms":419,"uV":8.85},{"cond":"Other","ms":427,"uV":8.5},{"cond":"Other","ms":438,"uV":8.0},{"cond":"Other","ms":449,"uV":7.59},{"cond":"Other","ms":457,"uV":7.35},{"cond":"Other","ms":466,"uV":7.26},{"cond":"Other","ms":475,"uV":7.35},{"cond":"Other","ms":483,"uV":7.38},{"cond":"Other","ms":494,"uV":7.4},{"cond":"Other","ms":505,"uV":7.38},{"cond":"Other","ms":516,"uV":7.15},{"cond":"Other","ms":527,"uV":6.93},{"cond":"Other","ms":538,"uV":6.74},{"cond":"Other","ms":549,"uV":6.54},{"cond":"Other","ms":560,"uV":6.34},{"cond":"Other","ms":571,"uV":6.14},{"cond":"Other","ms":582,"uV":5.95},{"cond":"Other","ms":594,"uV":5.75},{"cond":"Other","ms":605,"uV":5.5},{"cond":"Other","ms":616,"uV":5.22},{"cond":"Other","ms":627,"uV":4.9},{"cond":"Other","ms":638,"uV":4.57},{"cond":"Other","ms":650,"uV":4.35},{"cond":"Other","ms":661,"uV":4.2},{"cond":"Other","ms":677,"uV":3.6},{"cond":"Other","ms":694,"uV":3.1},{"cond":"Other","ms":710,"uV":2.75},{"cond":"Other","ms":727,"uV":2.45},{"cond":"Other","ms":744,"uV":2.2},{"cond":"Other","ms":761,"uV":1.95},{"cond":"Other","ms":783,"uV":1.8},{"cond":"Other","ms":800,"uV":2.0},
{"cond":"Self","ms":-200,"uV":-0.2},{"cond":"Self","ms":-185,"uV":-0.35},{"cond":"Self","ms":-170,"uV":-0.3},{"cond":"Self","ms":-153,"uV":-0.29},{"cond":"Self","ms":-130,"uV":-0.25},{"cond":"Self","ms":-108,"uV":-0.15},{"cond":"Self","ms":-85,"uV":0.1},{"cond":"Self","ms":-64,"uV":0.3},{"cond":"Self","ms":-45,"uV":0.35},{"cond":"Self","ms":-30,"uV":0.43},{"cond":"Self","ms":-10,"uV":0.45},{"cond":"Self","ms":3,"uV":0.5},{"cond":"Self","ms":20,"uV":0.55},{"cond":"Self","ms":36,"uV":0.56},{"cond":"Self","ms":55,"uV":0.35},{"cond":"Self","ms":70,"uV":0.1},{"cond":"Self","ms":85,"uV":0.5},{"cond":"Self","ms":98,"uV":0.9},{"cond":"Self","ms":110,"uV":0.55},{"cond":"Self","ms":120,"uV":-0.16},{"cond":"Self","ms":130,"uV":-1.0},{"cond":"Self","ms":140,"uV":-1.9},{"cond":"Self","ms":150,"uV":-2.4},{"cond":"Self","ms":163,"uV":-2.72},{"cond":"Self","ms":172,"uV":-2.2},{"cond":"Self","ms":181,"uV":-1.34},{"cond":"Self","ms":190,"uV":-0.6},{"cond":"Self","ms":198,"uV":0.0},{"cond":"Self","ms":207,"uV":0.8},{"cond":"Self","ms":215,"uV":1.55},{"cond":"Self","ms":226,"uV":2.2},{"cond":"Self","ms":243,"uV":3.39},{"cond":"Self","ms":259,"uV":3.91},{"cond":"Self","ms":276,"uV":4.3},{"cond":"Self","ms":287,"uV":4.6},{"cond":"Self","ms":295,"uV":4.9},{"cond":"Self","ms":304,"uV":6.0},{"cond":"Self","ms":313,"uV":6.8},{"cond":"Self","ms":321,"uV":7.45},{"cond":"Self","ms":329,"uV":8.1},{"cond":"Self","ms":337,"uV":8.76},{"cond":"Self","ms":346,"uV":9.25},{"cond":"Self","ms":354,"uV":9.68},{"cond":"Self","ms":362,"uV":10.0},{"cond":"Self","ms":371,"uV":10.27},{"cond":"Self","ms":380,"uV":10.45},{"cond":"Self","ms":388,"uV":10.54},{"cond":"Self","ms":396,"uV":10.48},{"cond":"Self","ms":404,"uV":10.34},{"cond":"Self","ms":412,"uV":10.1},{"cond":"Self","ms":421,"uV":9.82},{"cond":"Self","ms":430,"uV":9.55},{"cond":"Self","ms":438,"uV":9.29},{"cond":"Self","ms":446,"uV":9.08},{"cond":"Self","ms":454,"uV":8.9},{"cond":"Self","ms":462,"uV":8.75},{"cond":"Self","ms":471,"uV":8.64},{"cond":"Self","ms":482,"uV":8.5},{"cond":"Self","ms":493,"uV":8.37},{"cond":"Self","ms":504,"uV":8.2},{"cond":"Self","ms":515,"uV":7.98},{"cond":"Self","ms":527,"uV":7.72},{"cond":"Self","ms":538,"uV":7.45},{"cond":"Self","ms":549,"uV":7.2},{"cond":"Self","ms":560,"uV":6.93},{"cond":"Self","ms":571,"uV":6.67},{"cond":"Self","ms":582,"uV":6.4},{"cond":"Self","ms":594,"uV":6.08},{"cond":"Self","ms":605,"uV":5.75},{"cond":"Self","ms":616,"uV":5.42},{"cond":"Self","ms":627,"uV":5.09},{"cond":"Self","ms":644,"uV":4.5},{"cond":"Self","ms":661,"uV":4.1},{"cond":"Self","ms":677,"uV":3.6},{"cond":"Self","ms":694,"uV":3.12},{"cond":"Self","ms":710,"uV":2.8},{"cond":"Self","ms":727,"uV":2.47},{"cond":"Self","ms":744,"uV":2.2},{"cond":"Self","ms":761,"uV":1.94},{"cond":"Self","ms":783,"uV":1.75},{"cond":"Self","ms":800,"uV":1.65}
],
"POZ": [
{"cond":"Forbidden","ms":-200,"uV":-0.33},{"cond":"Forbidden","ms":-188,"uV":-0.3},{"cond":"Forbidden","ms":-173,"uV":-0.26},{"cond":"Forbidden","ms":-155,"uV":-0.26},{"cond":"Forbidden","ms":-139,"uV":-0.26},{"cond":"Forbidden","ms":-120,"uV":-0.2},{"cond":"Forbidden","ms":-106,"uV":-0.2},{"cond":"Forbidden","ms":-92,"uV":0.1},{"cond":"Forbidden","ms":-78,"uV":0.39},{"cond":"Forbidden","ms":-64,"uV":0.3},{"cond":"Forbidden","ms":-50,"uV":0.13},{"cond":"Forbidden","ms":-36,"uV":0.3},{"cond":"Forbidden","ms":-22,"uV":0.39},{"cond":"Forbidden","ms":-8,"uV":0.45},{"cond":"Forbidden","ms":6,"uV":0.46},{"cond":"Forbidden","ms":20,"uV":0.5},{"cond":"Forbidden","ms":33,"uV":0.52},{"cond":"Forbidden","ms":50,"uV":0.3},{"cond":"Forbidden","ms":60,"uV":-0.05},{"cond":"Forbidden","ms":72,"uV":-0.26},{"cond":"Forbidden","ms":85,"uV":0.1},{"cond":"Forbidden","ms":96,"uV":0.4},{"cond":"Forbidden","ms":106,"uV":0.46},{"cond":"Forbidden","ms":116,"uV":0.0},{"cond":"Forbidden","ms":128,"uV":-0.79},{"cond":"Forbidden","ms":137,"uV":-1.8},{"cond":"Forbidden","ms":145,"uV":-2.76},{"cond":"Forbidden","ms":155,"uV":-3.7},{"cond":"Forbidden","ms":167,"uV":-4.33},{"cond":"Forbidden","ms":175,"uV":-3.8},{"cond":"Forbidden","ms":184,"uV":-2.62},{"cond":"Forbidden","ms":193,"uV":-1.6},{"cond":"Forbidden","ms":201,"uV":-0.79},{"cond":"Forbidden","ms":210,"uV":-0.2},{"cond":"Forbidden","ms":217,"uV":0.26},{"cond":"Forbidden","ms":229,"uV":1.05},{"cond":"Forbidden","ms":240,"uV":1.1},{"cond":"Forbidden","ms":252,"uV":1.0},{"cond":"Forbidden","ms":262,"uV":0.95},{"cond":"Forbidden","ms":275,"uV":0.9},{"cond":"Forbidden","ms":285,"uV":1.3},{"cond":"Forbidden","ms":295,"uV":2.1},{"cond":"Forbidden","ms":307,"uV":3.15},{"cond":"Forbidden","ms":315,"uV":3.85},{"cond":"Forbidden","ms":323,"uV":4.46},{"cond":"Forbidden","ms":331,"uV":4.95},{"cond":"Forbidden","ms":340,"uV":5.38},{"cond":"Forbidden","ms":349,"uV":5.8},{"cond":"Forbidden","ms":357,"uV":6.17},{"cond":"Forbidden","ms":365,"uV":6.4},{"cond":"Forbidden","ms":373,"uV":6.56},{"cond":"Forbidden","ms":385,"uV":6.68},{"cond":"Forbidden","ms":396,"uV":6.76},{"cond":"Forbidden","ms":407,"uV":6.8},{"cond":"Forbidden","ms":418,"uV":6.82},{"cond":"Forbidden","ms":429,"uV":6.86},{"cond":"Forbidden","ms":440,"uV":6.89},{"cond":"Forbidden","ms":451,"uV":6.89},{"cond":"Forbidden","ms":463,"uV":6.89},{"cond":"Forbidden","ms":479,"uV":6.89},{"cond":"Forbidden","ms":488,"uV":6.75},{"cond":"Forbidden","ms":496,"uV":6.56},{"cond":"Forbidden","ms":507,"uV":6.2},{"cond":"Forbidden","ms":518,"uV":5.77},{"cond":"Forbidden","ms":530,"uV":5.5},{"cond":"Forbidden","ms":541,"uV":5.25},{"cond":"Forbidden","ms":552,"uV":5.0},{"cond":"Forbidden","ms":563,"uV":4.72},{"cond":"Forbidden","ms":574,"uV":4.35},{"cond":"Forbidden","ms":585,"uV":3.94},{"cond":"Forbidden","ms":597,"uV":3.55},{"cond":"Forbidden","ms":608,"uV":3.15},{"cond":"Forbidden","ms":619,"uV":2.88},{"cond":"Forbidden","ms":630,"uV":2.62},{"cond":"Forbidden","ms":641,"uV":2.36},{"cond":"Forbidden","ms":652,"uV":2.1},{"cond":"Forbidden","ms":663,"uV":1.77},{"cond":"Forbidden","ms":674,"uV":1.44},{"cond":"Forbidden","ms":686,"uV":1.18},{"cond":"Forbidden","ms":697,"uV":0.92},{"cond":"Forbidden","ms":708,"uV":0.69},{"cond":"Forbidden","ms":719,"uV":0.46},{"cond":"Forbidden","ms":730,"uV":0.23},{"cond":"Forbidden","ms":741,"uV":0.0},{"cond":"Forbidden","ms":752,"uV":-0.1},{"cond":"Forbidden","ms":764,"uV":-0.2},{"cond":"Forbidden","ms":780,"uV":-0.4},{"cond":"Forbidden","ms":792,"uV":-0.66},{"cond":"Forbidden","ms":800,"uV":-0.75},
{"cond":"Other","ms":-200,"uV":-0.66},{"cond":"Other","ms":-188,"uV":-0.55},{"cond":"Other","ms":-173,"uV":-0.59},{"cond":"Other","ms":-155,"uV":-0.5},{"cond":"Other","ms":-139,"uV":-0.46},{"cond":"Other","ms":-120,"uV":-0.35},{"cond":"Other","ms":-106,"uV":-0.26},{"cond":"Other","ms":-92,"uV":0.0},{"cond":"Other","ms":-78,"uV":0.26},{"cond":"Other","ms":-64,"uV":0.35},{"cond":"Other","ms":-50,"uV":0.39},{"cond":"Other","ms":-36,"uV":0.3},{"cond":"Other","ms":-22,"uV":0.2},{"cond":"Other","ms":-8,"uV":0.18},{"cond":"Other","ms":6,"uV":0.2},{"cond":"Other","ms":20,"uV":0.3},{"cond":"Other","ms":33,"uV":0.33},{"cond":"Other","ms":50,"uV":0.15},{"cond":"Other","ms":60,"uV":-0.1},{"cond":"Other","ms":72,"uV":-0.26},{"cond":"Other","ms":85,"uV":0.1},{"cond":"Other","ms":96,"uV":0.4},{"cond":"Other","ms":106,"uV":0.46},{"cond":"Other","ms":116,"uV":0.0},{"cond":"Other","ms":128,"uV":-0.8},{"cond":"Other","ms":137,"uV":-2.0},{"cond":"Other","ms":145,"uV":-3.0},{"cond":"Other","ms":155,"uV":-4.1},{"cond":"Other","ms":165,"uV":-4.8},{"cond":"Other","ms":173,"uV":-5.05},{"cond":"Other","ms":180,"uV":-4.3},{"cond":"Other","ms":184,"uV":-3.41},{"cond":"Other","ms":193,"uV":-2.2},{"cond":"Other","ms":201,"uV":-1.05},{"cond":"Other","ms":210,"uV":-0.2},{"cond":"Other","ms":217,"uV":0.39},{"cond":"Other","ms":229,"uV":1.3},{"cond":"Other","ms":240,"uV":1.84},{"cond":"Other","ms":256,"uV":2.17},{"cond":"Other","ms":270,"uV":2.62},{"cond":"Other","ms":284,"uV":3.15},{"cond":"Other","ms":295,"uV":3.55},{"cond":"Other","ms":307,"uV":3.94},{"cond":"Other","ms":315,"uV":4.5},{"cond":"Other","ms":323,"uV":4.99},{"cond":"Other","ms":331,"uV":5.4},{"cond":"Other","ms":340,"uV":5.77},{"cond":"Other","ms":349,"uV":6.1},{"cond":"Other","ms":357,"uV":6.43},{"cond":"Other","ms":365,"uV":6.63},{"cond":"Other","ms":373,"uV":6.76},{"cond":"Other","ms":385,"uV":6.8},{"cond":"Other","ms":396,"uV":6.76},{"cond":"Other","ms":404,"uV":6.63},{"cond":"Other","ms":412,"uV":6.43},{"cond":"Other","ms":420,"uV":6.0},{"cond":"Other","ms":429,"uV":5.51},{"cond":"Other","ms":438,"uV":5.15},{"cond":"Other","ms":446,"uV":4.86},{"cond":"Other","ms":453,"uV":4.6},{"cond":"Other","ms":460,"uV":4.46},{"cond":"Other","ms":470,"uV":4.6},{"cond":"Other","ms":479,"uV":4.66},{"cond":"Other","ms":488,"uV":4.72},{"cond":"Other","ms":496,"uV":4.72},{"cond":"Other","ms":507,"uV":4.52},{"cond":"Other","ms":518,"uV":4.33},{"cond":"Other","ms":530,"uV":4.13},{"cond":"Other","ms":541,"uV":3.94},{"cond":"Other","ms":552,"uV":3.67},{"cond":"Other","ms":563,"uV":3.41},{"cond":"Other","ms":574,"uV":3.15},{"cond":"Other","ms":585,"uV":2.89},{"cond":"Other","ms":597,"uV":2.69},{"cond":"Other","ms":608,"uV":2.49},{"cond":"Other","ms":619,"uV":2.3},{"cond":"Other","ms":630,"uV":2.1},{"cond":"Other","ms":641,"uV":1.84},{"cond":"Other","ms":652,"uV":1.57},{"cond":"Other","ms":663,"uV":1.3},{"cond":"Other","ms":674,"uV":1.05},{"cond":"Other","ms":686,"uV":0.85},{"cond":"Other","ms":697,"uV":0.66},{"cond":"Other","ms":708,"uV":0.46},{"cond":"Other","ms":719,"uV":0.26},{"cond":"Other","ms":730,"uV":0.1},{"cond":"Other","ms":741,"uV":-0.07},{"cond":"Other","ms":752,"uV":-0.17},{"cond":"Other","ms":764,"uV":-0.26},{"cond":"Other","ms":780,"uV":-0.28},{"cond":"Other","ms":792,"uV":-0.26},{"cond":"Other","ms":800,"uV":-0.2},
{"cond":"Self","ms":-200,"uV":-0.3},{"cond":"Self","ms":-188,"uV":-0.45},{"cond":"Self","ms":-173,"uV":-0.39},{"cond":"Self","ms":-155,"uV":-0.35},{"cond":"Self","ms":-139,"uV":-0.26},{"cond":"Self","ms":-120,"uV":-0.22},{"cond":"Self","ms":-106,"uV":-0.2},{"cond":"Self","ms":-92,"uV":0.0},{"cond":"Self","ms":-78,"uV":0.13},{"cond":"Self","ms":-64,"uV":0.15},{"cond":"Self","ms":-50,"uV":0.13},{"cond":"Self","ms":-36,"uV":0.2},{"cond":"Self","ms":-22,"uV":0.26},{"cond":"Self","ms":-8,"uV":0.3},{"cond":"Self","ms":6,"uV":0.33},{"cond":"Self","ms":20,"uV":0.3},{"cond":"Self","ms":33,"uV":0.26},{"cond":"Self","ms":50,"uV":0.1},{"cond":"Self","ms":60,"uV":-0.1},{"cond":"Self","ms":72,"uV":-0.26},{"cond":"Self","ms":85,"uV":0.1},{"cond":"Self","ms":96,"uV":0.4},{"cond":"Self","ms":106,"uV":0.46},{"cond":"Self","ms":116,"uV":0.0},{"cond":"Self","ms":128,"uV":-0.79},{"cond":"Self","ms":137,"uV":-1.8},{"cond":"Self","ms":145,"uV":-2.76},{"cond":"Self","ms":155,"uV":-3.6},{"cond":"Self","ms":167,"uV":-4.2},{"cond":"Self","ms":175,"uV":-3.8},{"cond":"Self","ms":184,"uV":-2.76},{"cond":"Self","ms":193,"uV":-1.6},{"cond":"Self","ms":201,"uV":-0.52},{"cond":"Self","ms":210,"uV":0.1},{"cond":"Self","ms":217,"uV":0.52},{"cond":"Self","ms":229,"uV":1.31},{"cond":"Self","ms":240,"uV":2.1},{"cond":"Self","ms":256,"uV":2.23},{"cond":"Self","ms":273,"uV":2.23},{"cond":"Self","ms":284,"uV":2.89},{"cond":"Self","ms":295,"uV":3.41},{"cond":"Self","ms":307,"uV":4.2},{"cond":"Self","ms":315,"uV":4.8},{"cond":"Self","ms":323,"uV":5.38},{"cond":"Self","ms":331,"uV":5.85},{"cond":"Self","ms":340,"uV":6.3},{"cond":"Self","ms":349,"uV":6.8},{"cond":"Self","ms":357,"uV":7.22},{"cond":"Self","ms":365,"uV":7.55},{"cond":"Self","ms":373,"uV":7.87},{"cond":"Self","ms":382,"uV":8.05},{"cond":"Self","ms":390,"uV":8.14},{"cond":"Self","ms":398,"uV":8.05},{"cond":"Self","ms":407,"uV":7.87},{"cond":"Self","ms":418,"uV":7.55},{"cond":"Self","ms":429,"uV":7.22},{"cond":"Self","ms":440,"uV":7.0},{"cond":"Self","ms":451,"uV":6.82},{"cond":"Self","ms":462,"uV":6.68},{"cond":"Self","ms":474,"uV":6.56},{"cond":"Self","ms":485,"uV":6.37},{"cond":"Self","ms":496,"uV":6.17},{"cond":"Self","ms":507,"uV":5.97},{"cond":"Self","ms":518,"uV":5.77},{"cond":"Self","ms":530,"uV":5.52},{"cond":"Self","ms":541,"uV":5.25},{"cond":"Self","ms":552,"uV":4.93},{"cond":"Self","ms":563,"uV":4.59},{"cond":"Self","ms":574,"uV":4.26},{"cond":"Self","ms":585,"uV":3.94},{"cond":"Self","ms":597,"uV":3.66},{"cond":"Self","ms":608,"uV":3.41},{"cond":"Self","ms":619,"uV":3.2},{"cond":"Self","ms":630,"uV":3.02},{"cond":"Self","ms":641,"uV":2.75},{"cond":"Self","ms":652,"uV":2.49},{"cond":"Self","ms":663,"uV":2.23},{"cond":"Self","ms":674,"uV":1.97},{"cond":"Self","ms":686,"uV":1.74},{"cond":"Self","ms":697,"uV":1.51},{"cond":"Self","ms":708,"uV":1.3},{"cond":"Self","ms":719,"uV":1.12},{"cond":"Self","ms":730,"uV":0.9},{"cond":"Self","ms":741,"uV":0.66},{"cond":"Self","ms":752,"uV":0.55},{"cond":"Self","ms":764,"uV":0.46},{"cond":"Self","ms":778,"uV":0.3},{"cond":"Self","ms":792,"uV":0.13},{"cond":"Self","ms":800,"uV":0.05}
]
},
"concat": [
{"width": 299, "height": 203, "data": {"values": []}, "mark": "point", "encoding": {}},
{
 "width": 299, "height": 203,
 "layer": [
  {"data": {"name": "windows"}, "transform": [{"filter": "datum.site === 'CPZ'"}],
   "mark": {"type": "rect", "stroke": "#ffffff", "strokeWidth": 1.5},
   "encoding": {
    "x": {"field": "from", "type": "quantitative", "scale": {"domain": [-200, 800], "nice": false, "zero": false}, "axis": {"orient": "bottom", "offset": -101.5, "values": [-200, 200, 400, 600, 800], "tickSize": 10, "title": "CPZ", "titleX": 0, "titleY": -127, "titleAlign": "left", "titleBaseline": "alphabetic", "titleFontSize": 22, "titleFontWeight": "normal", "titleColor": "#404040", "titleFont": "Liberation Sans"}},
    "x2": {"field": "to"},
    "y": {"field": "lo", "type": "quantitative", "scale": {"domain": [-4, 4], "reverse": true, "nice": false, "zero": false}, "axis": {"orient": "left", "offset": -59.8, "values": [-4, 4], "tickSize": 11, "title": null}},
    "y2": {"field": "hi"},
    "fill": {"field": "window", "type": "nominal", "scale": {"domain": ["N2 [250 - 300 ms]", "P300 early [375 - 450 ms]", "P300 late [450 - 525 ms]"], "range": ["#d6d6d6", "#f3f3f3", "#e5e6e6"]}, "legend": {"title": null, "orient": "none", "legendX": 494, "legendY": 1116, "symbolType": "M-1,-0.31H1V0.31H-1Z", "symbolSize": 2720, "symbolStrokeWidth": 0, "labelOffset": 4}}
   }},
  {"data": {"name": "CPZ"},
   "mark": {"type": "line", "interpolate": "monotone", "strokeWidth": 1.4},
   "encoding": {
    "x": {"field": "ms", "type": "quantitative", "scale": {"domain": [-200, 800], "nice": false, "zero": false}, "axis": {"orient": "top", "offset": -101.5, "values": [-200, 200, 400, 600, 800], "tickSize": 10, "domain": false, "title": null}},
    "y": {"field": "uV", "type": "quantitative", "scale": {"domain": [-4, 4], "reverse": true, "nice": false, "zero": false}, "axis": {"orient": "right", "offset": -239.2, "values": [-4, 4], "tickSize": 11, "domain": false, "title": null, "labels": true, "labelExpr": "datum.value < 0 ? '−' : '+'", "labelFontSize": 26, "labelColor": "#111111", "labelPadding": 1, "labelBaseline": "middle", "labelOffset": {"condition": {"test": "datum.value < 0", "value": 9}, "value": -6}}},
    "stroke": {"field": "cond", "type": "nominal", "scale": {"domain": ["Self", "Other", "Forbidden"], "range": ["#1a1a1a", "#1a1a1a", "#b0b0b0"]}, "legend": {"title": null, "orient": "none", "legendX": 240, "legendY": 1116, "symbolType": "stroke", "symbolSize": 2767, "symbolStrokeWidth": 1.4, "labelOffset": 9}},
    "strokeDash": {"field": "cond", "type": "nominal", "scale": {"domain": ["Self", "Other", "Forbidden"], "range": [[9, 4], [4.5, 3.5], [1, 0]]}, "legend": {"title": null, "orient": "none", "legendX": 240, "legendY": 1116, "symbolType": "stroke", "symbolSize": 2767, "symbolStrokeWidth": 1.4, "labelOffset": 9}}
   }}
 ],
 "resolve": {"axis": {"x": "independent", "y": "independent"}}
},
{"width": 299, "height": 203, "data": {"values": []}, "mark": "point", "encoding": {}},
{
 "width": 299, "height": 203,
 "layer": [
  {"data": {"name": "windows"}, "transform": [{"filter": "datum.site === 'P1'"}],
   "mark": {"type": "rect", "stroke": "#ffffff", "strokeWidth": 1.5},
   "encoding": {
    "x": {"field": "from", "type": "quantitative", "scale": {"domain": [-200, 800], "nice": false, "zero": false}, "axis": {"orient": "bottom", "offset": -101.5, "values": [-200, 200, 400, 600, 800], "tickSize": 10, "title": "P1", "titleX": 0, "titleY": -127, "titleAlign": "left", "titleBaseline": "alphabetic", "titleFontSize": 22, "titleFontWeight": "normal", "titleColor": "#404040", "titleFont": "Liberation Sans"}},
    "x2": {"field": "to"},
    "y": {"field": "lo", "type": "quantitative", "scale": {"domain": [-4, 4], "reverse": true, "nice": false, "zero": false}, "axis": {"orient": "left", "offset": -59.8, "values": [-4, 4], "tickSize": 11, "title": null}},
    "y2": {"field": "hi"},
    "fill": {"field": "window", "type": "nominal", "scale": {"domain": ["N2 [250 - 300 ms]", "P300 early [375 - 450 ms]", "P300 late [450 - 525 ms]"], "range": ["#d6d6d6", "#f3f3f3", "#e5e6e6"]}, "legend": {"title": null, "orient": "none", "legendX": 494, "legendY": 1116, "symbolType": "M-1,-0.31H1V0.31H-1Z", "symbolSize": 2720, "symbolStrokeWidth": 0, "labelOffset": 4}}
   }},
  {"data": {"name": "P1"},
   "mark": {"type": "line", "interpolate": "monotone", "strokeWidth": 1.4},
   "encoding": {
    "x": {"field": "ms", "type": "quantitative", "scale": {"domain": [-200, 800], "nice": false, "zero": false}, "axis": {"orient": "top", "offset": -101.5, "values": [-200, 200, 400, 600, 800], "tickSize": 10, "domain": false, "title": null}},
    "y": {"field": "uV", "type": "quantitative", "scale": {"domain": [-4, 4], "reverse": true, "nice": false, "zero": false}, "axis": {"orient": "right", "offset": -239.2, "values": [-4, 4], "tickSize": 11, "domain": false, "title": null, "labels": true, "labelExpr": "datum.value < 0 ? '−' : '+'", "labelFontSize": 26, "labelColor": "#111111", "labelPadding": 1, "labelBaseline": "middle", "labelOffset": {"condition": {"test": "datum.value < 0", "value": 9}, "value": -6}}},
    "stroke": {"field": "cond", "type": "nominal", "scale": {"domain": ["Self", "Other", "Forbidden"], "range": ["#1a1a1a", "#1a1a1a", "#b0b0b0"]}, "legend": {"title": null, "orient": "none", "legendX": 240, "legendY": 1116, "symbolType": "stroke", "symbolSize": 2767, "symbolStrokeWidth": 1.4, "labelOffset": 9}},
    "strokeDash": {"field": "cond", "type": "nominal", "scale": {"domain": ["Self", "Other", "Forbidden"], "range": [[9, 4], [4.5, 3.5], [1, 0]]}, "legend": {"title": null, "orient": "none", "legendX": 240, "legendY": 1116, "symbolType": "stroke", "symbolSize": 2767, "symbolStrokeWidth": 1.4, "labelOffset": 9}}
   }}
 ],
 "resolve": {"axis": {"x": "independent", "y": "independent"}}
},
{
 "width": 299, "height": 203,
 "layer": [
  {"data": {"name": "windows"}, "transform": [{"filter": "datum.site === 'PZ'"}],
   "mark": {"type": "rect", "stroke": "#ffffff", "strokeWidth": 1.5},
   "encoding": {
    "x": {"field": "from", "type": "quantitative", "scale": {"domain": [-200, 800], "nice": false, "zero": false}, "axis": {"orient": "bottom", "offset": -101.5, "values": [-200, 200, 400, 600, 800], "tickSize": 10, "title": "PZ", "titleX": 0, "titleY": -127, "titleAlign": "left", "titleBaseline": "alphabetic", "titleFontSize": 22, "titleFontWeight": "normal", "titleColor": "#404040", "titleFont": "Liberation Sans"}},
    "x2": {"field": "to"},
    "y": {"field": "lo", "type": "quantitative", "scale": {"domain": [-4, 4], "reverse": true, "nice": false, "zero": false}, "axis": {"orient": "left", "offset": -59.8, "values": [-4, 4], "tickSize": 11, "title": null}},
    "y2": {"field": "hi"},
    "fill": {"field": "window", "type": "nominal", "scale": {"domain": ["N2 [250 - 300 ms]", "P300 early [375 - 450 ms]", "P300 late [450 - 525 ms]"], "range": ["#d6d6d6", "#f3f3f3", "#e5e6e6"]}, "legend": {"title": null, "orient": "none", "legendX": 494, "legendY": 1116, "symbolType": "M-1,-0.31H1V0.31H-1Z", "symbolSize": 2720, "symbolStrokeWidth": 0, "labelOffset": 4}}
   }},
  {"data": {"name": "PZ"},
   "mark": {"type": "line", "interpolate": "monotone", "strokeWidth": 1.4},
   "encoding": {
    "x": {"field": "ms", "type": "quantitative", "scale": {"domain": [-200, 800], "nice": false, "zero": false}, "axis": {"orient": "top", "offset": -101.5, "values": [-200, 200, 400, 600, 800], "tickSize": 10, "domain": false, "title": null}},
    "y": {"field": "uV", "type": "quantitative", "scale": {"domain": [-4, 4], "reverse": true, "nice": false, "zero": false}, "axis": {"orient": "right", "offset": -239.2, "values": [-4, 4], "tickSize": 11, "domain": false, "title": null, "labels": true, "labelExpr": "datum.value < 0 ? '−' : '+'", "labelFontSize": 26, "labelColor": "#111111", "labelPadding": 1, "labelBaseline": "middle", "labelOffset": {"condition": {"test": "datum.value < 0", "value": 9}, "value": -6}}},
    "stroke": {"field": "cond", "type": "nominal", "scale": {"domain": ["Self", "Other", "Forbidden"], "range": ["#1a1a1a", "#1a1a1a", "#b0b0b0"]}, "legend": {"title": null, "orient": "none", "legendX": 240, "legendY": 1116, "symbolType": "stroke", "symbolSize": 2767, "symbolStrokeWidth": 1.4, "labelOffset": 9}},
    "strokeDash": {"field": "cond", "type": "nominal", "scale": {"domain": ["Self", "Other", "Forbidden"], "range": [[9, 4], [4.5, 3.5], [1, 0]]}, "legend": {"title": null, "orient": "none", "legendX": 240, "legendY": 1116, "symbolType": "stroke", "symbolSize": 2767, "symbolStrokeWidth": 1.4, "labelOffset": 9}}
   }}
 ],
 "resolve": {"axis": {"x": "independent", "y": "independent"}}
},
{
 "width": 299, "height": 203,
 "layer": [
  {"data": {"name": "windows"}, "transform": [{"filter": "datum.site === 'P2'"}],
   "mark": {"type": "rect", "stroke": "#ffffff", "strokeWidth": 1.5},
   "encoding": {
    "x": {"field": "from", "type": "quantitative", "scale": {"domain": [-200, 800], "nice": false, "zero": false}, "axis": {"orient": "bottom", "offset": -101.5, "values": [-200, 200, 400, 600, 800], "tickSize": 10, "title": "P2", "titleX": 0, "titleY": -127, "titleAlign": "left", "titleBaseline": "alphabetic", "titleFontSize": 22, "titleFontWeight": "normal", "titleColor": "#404040", "titleFont": "Liberation Sans"}},
    "x2": {"field": "to"},
    "y": {"field": "lo", "type": "quantitative", "scale": {"domain": [-4, 4], "reverse": true, "nice": false, "zero": false}, "axis": {"orient": "left", "offset": -59.8, "values": [-4, 4], "tickSize": 11, "title": "2 µV", "titleAngle": 0, "titleAlign": "left", "titleBaseline": "middle", "titleX": -58.8, "titleY": 51, "titleFontSize": 14, "titleFontWeight": "normal", "titleColor": "#333333", "titleFont": "Liberation Sans"}},
    "y2": {"field": "hi"},
    "fill": {"field": "window", "type": "nominal", "scale": {"domain": ["N2 [250 - 300 ms]", "P300 early [375 - 450 ms]", "P300 late [450 - 525 ms]"], "range": ["#d6d6d6", "#f3f3f3", "#e5e6e6"]}, "legend": {"title": null, "orient": "none", "legendX": 494, "legendY": 1116, "symbolType": "M-1,-0.31H1V0.31H-1Z", "symbolSize": 2720, "symbolStrokeWidth": 0, "labelOffset": 4}}
   }},
  {"data": {"name": "P2"},
   "mark": {"type": "line", "interpolate": "monotone", "strokeWidth": 1.4},
   "encoding": {
    "x": {"field": "ms", "type": "quantitative", "scale": {"domain": [-200, 800], "nice": false, "zero": false}, "axis": {"orient": "top", "offset": -101.5, "values": [-200, 200, 400, 600, 800], "tickSize": 10, "domain": false, "title": null, "labels": true, "labelExpr": "datum.value == 400 ? '400' : datum.value == 600 ? 'ms' : datum.value == 800 ? '800' : ''", "labelFontSize": 14, "labelPadding": {"condition": {"test": "datum.value == 600", "value": 19}, "value": 8}}},
    "y": {"field": "uV", "type": "quantitative", "scale": {"domain": [-4, 4], "reverse": true, "nice": false, "zero": false}, "axis": {"orient": "right", "offset": -239.2, "values": [-4, 4], "tickSize": 11, "domain": false, "title": null, "labels": true, "labelExpr": "datum.value < 0 ? '−' : '+'", "labelFontSize": 26, "labelColor": "#111111", "labelPadding": 1, "labelBaseline": "middle", "labelOffset": {"condition": {"test": "datum.value < 0", "value": 9}, "value": -6}}},
    "stroke": {"field": "cond", "type": "nominal", "scale": {"domain": ["Self", "Other", "Forbidden"], "range": ["#1a1a1a", "#1a1a1a", "#b0b0b0"]}, "legend": {"title": null, "orient": "none", "legendX": 240, "legendY": 1116, "symbolType": "stroke", "symbolSize": 2767, "symbolStrokeWidth": 1.4, "labelOffset": 9}},
    "strokeDash": {"field": "cond", "type": "nominal", "scale": {"domain": ["Self", "Other", "Forbidden"], "range": [[9, 4], [4.5, 3.5], [1, 0]]}, "legend": {"title": null, "orient": "none", "legendX": 240, "legendY": 1116, "symbolType": "stroke", "symbolSize": 2767, "symbolStrokeWidth": 1.4, "labelOffset": 9}}
   }}
 ],
 "resolve": {"axis": {"x": "independent", "y": "independent"}}
},
{"width": 299, "height": 203, "data": {"values": []}, "mark": "point", "encoding": {}},
{
 "width": 299, "height": 203,
 "layer": [
  {"data": {"name": "windows"}, "transform": [{"filter": "datum.site === 'POZ'"}],
   "mark": {"type": "rect", "stroke": "#ffffff", "strokeWidth": 1.5},
   "encoding": {
    "x": {"field": "from", "type": "quantitative", "scale": {"domain": [-200, 800], "nice": false, "zero": false}, "axis": {"orient": "bottom", "offset": -101.5, "values": [-200, 200, 400, 600, 800], "tickSize": 10, "title": "POZ", "titleX": 0, "titleY": -127, "titleAlign": "left", "titleBaseline": "alphabetic", "titleFontSize": 22, "titleFontWeight": "normal", "titleColor": "#404040", "titleFont": "Liberation Sans"}},
    "x2": {"field": "to"},
    "y": {"field": "lo", "type": "quantitative", "scale": {"domain": [-4, 4], "reverse": true, "nice": false, "zero": false}, "axis": {"orient": "left", "offset": -59.8, "values": [-4, 4], "tickSize": 11, "title": null}},
    "y2": {"field": "hi"},
    "fill": {"field": "window", "type": "nominal", "scale": {"domain": ["N2 [250 - 300 ms]", "P300 early [375 - 450 ms]", "P300 late [450 - 525 ms]"], "range": ["#d6d6d6", "#f3f3f3", "#e5e6e6"]}, "legend": {"title": null, "orient": "none", "legendX": 494, "legendY": 1116, "symbolType": "M-1,-0.31H1V0.31H-1Z", "symbolSize": 2720, "symbolStrokeWidth": 0, "labelOffset": 4}}
   }},
  {"data": {"name": "POZ"},
   "mark": {"type": "line", "interpolate": "monotone", "strokeWidth": 1.4},
   "encoding": {
    "x": {"field": "ms", "type": "quantitative", "scale": {"domain": [-200, 800], "nice": false, "zero": false}, "axis": {"orient": "top", "offset": -101.5, "values": [-200, 200, 400, 600, 800], "tickSize": 10, "domain": false, "title": null}},
    "y": {"field": "uV", "type": "quantitative", "scale": {"domain": [-4, 4], "reverse": true, "nice": false, "zero": false}, "axis": {"orient": "right", "offset": -239.2, "values": [-4, 4], "tickSize": 11, "domain": false, "title": null, "labels": true, "labelExpr": "datum.value < 0 ? '−' : '+'", "labelFontSize": 26, "labelColor": "#111111", "labelPadding": 1, "labelBaseline": "middle", "labelOffset": {"condition": {"test": "datum.value < 0", "value": 9}, "value": -6}}},
    "stroke": {"field": "cond", "type": "nominal", "scale": {"domain": ["Self", "Other", "Forbidden"], "range": ["#1a1a1a", "#1a1a1a", "#b0b0b0"]}, "legend": {"title": null, "orient": "none", "legendX": 240, "legendY": 1116, "symbolType": "stroke", "symbolSize": 2767, "symbolStrokeWidth": 1.4, "labelOffset": 9}},
    "strokeDash": {"field": "cond", "type": "nominal", "scale": {"domain": ["Self", "Other", "Forbidden"], "range": [[9, 4], [4.5, 3.5], [1, 0]]}, "legend": {"title": null, "orient": "none", "legendX": 240, "legendY": 1116, "symbolType": "stroke", "symbolSize": 2767, "symbolStrokeWidth": 1.4, "labelOffset": 9}}
   }}
 ],
 "resolve": {"axis": {"x": "independent", "y": "independent"}}
}
]
}
